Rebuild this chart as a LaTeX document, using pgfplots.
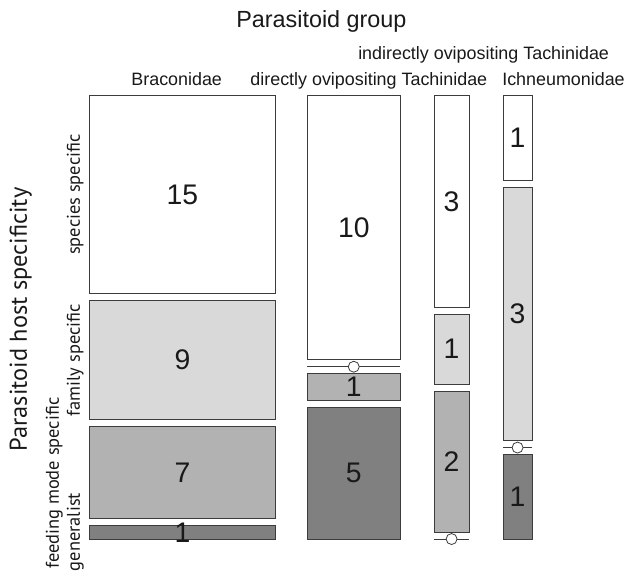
\documentclass[border=0pt]{standalone}
\usepackage{pgfplots}
\pgfplotsset{compat=1.18}
\usepackage{fontspec}
\setmainfont{Liberation Sans}
\newfontfamily\lblfont{PT Sans}
\definecolor{famc}{HTML}{D9D9D9}
\definecolor{feedc}{HTML}{B2B2B2}
\definecolor{genc}{HTML}{808080}
\definecolor{bord}{HTML}{3C3C3C}
\newcommand{\cellrect}[5]{\addplot[fill=#5, draw=bord, line width=0.8bp] coordinates {(#1,#3) (#2,#3) (#2,#4) (#1,#4)} -- cycle;}
\newcommand{\zerocell}[3]{%
  \addplot[draw=bord, line width=0.8bp] coordinates {(#1,#3) (#2,#3)};
  \addplot[only marks, mark=*, mark size=5.5bp, mark options={fill=white, draw=bord, line width=0.8bp}] coordinates {({(#1+#2)/2},#3)};}
\begin{document}
\begin{tikzpicture}
\begin{axis}[
  width=628bp, height=577bp, scale only axis,
  xmin=0, xmax=628, ymin=0, ymax=577, y dir=reverse,
  hide axis, clip=false,
  every node/.append style={inner sep=0pt, outer sep=0pt},
]
\addplot[draw=none] coordinates {(0,0) (628,577)};
% Braconidae (15, 9, 7, 1)
\cellrect{90}{275.6}{96}{294.3}{white}
\cellrect{90}{275.6}{301.3}{420.3}{famc}
\cellrect{90}{275.6}{427.3}{519.8}{feedc}
\cellrect{90}{275.6}{526.8}{540}{genc}
% directly ovipositing Tachinidae (10, 0, 1, 5)
\cellrect{308}{400.8}{96}{360.4}{white}
\zerocell{308}{400.8}{367.4}
\cellrect{308}{400.8}{374.4}{400.8}{feedc}
\cellrect{308}{400.8}{407.8}{540}{genc}
% indirectly ovipositing Tachinidae (3, 1, 2, 0)
\cellrect{435}{469.8}{96}{307.5}{white}
\cellrect{435}{469.8}{314.5}{385}{famc}
\cellrect{435}{469.8}{392}{533}{feedc}
\zerocell{435}{469.8}{540}
% Ichneumonidae (1, 3, 0, 1)
\cellrect{504}{533}{96}{180.6}{white}
\cellrect{504}{533}{187.6}{441.4}{famc}
\zerocell{504}{533}{448.4}
\cellrect{504}{533}{455.4}{540}{genc}

% counts
\begin{scope}[every node/.style={font=\fontsize{28.5}{30}\selectfont, text=black!90}]
\node at (axis cs:182.8,195.2) {15};
\node at (axis cs:182.8,360.8) {9};
\node at (axis cs:182.8,473.5) {7};
\node at (axis cs:182.8,533.4) {1};
\node at (axis cs:354.4,228.2) {10};
\node at (axis cs:354.4,387.6) {1};
\node at (axis cs:354.4,473.9) {5};
\node at (axis cs:452.4,201.8) {3};
\node at (axis cs:452.4,349.8) {1};
\node at (axis cs:452.4,462.5) {2};
\node at (axis cs:518.5,138.3) {1};
\node at (axis cs:518.5,314.5) {3};
\node at (axis cs:518.5,497.7) {1};
\end{scope}

% titles
\node[anchor=base, font=\fontsize{23.5}{26}\selectfont, text=black!90] at (axis cs:322,28) {Parasitoid group};
\begin{scope}[every node/.style={anchor=base, font=\fontsize{18}{20}\selectfont, text=black!90}]
\node at (axis cs:177,86) {Braconidae};
\node at (axis cs:369.5,86) {directly ovipositing Tachinidae};
\node at (axis cs:484.5,60) {indirectly ovipositing Tachinidae};
\node at (axis cs:564.5,86) {Ichneumonidae};
\end{scope}
\node[anchor=base, rotate=90, font=\lblfont\fontsize{24.5}{26}\selectfont, text=black!90] at (axis cs:27,320) {Parasitoid host specificity};
\begin{scope}[every node/.style={anchor=base, rotate=90, font=\lblfont\fontsize{18.5}{20}\selectfont, text=black!90}]
\node at (axis cs:80,195) {species specific};
\node at (axis cs:80,361) {family specific};
\node at (axis cs:59,484) {feeding mode specific};
\node at (axis cs:80,533) {generalist};
\end{scope}
\end{axis}
\end{tikzpicture}
\end{document}
